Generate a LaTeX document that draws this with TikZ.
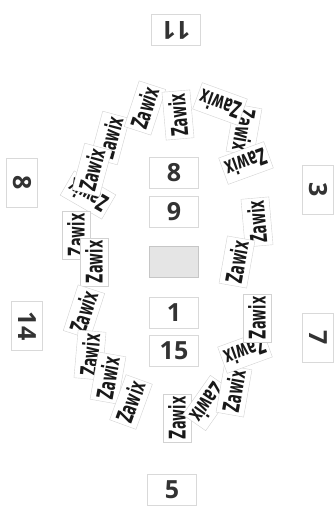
\documentclass[tikz,border=0pt]{standalone}
\usepackage{fontspec}
\newfontfamily\numfont{Open Sans}
\newfontfamily\handfont[FakeStretch=0.56]{DejaVu Sans}
\tikzset{
  numbox/.style={draw=gray!30, fill=white, minimum width=49pt, minimum height=31pt, inner sep=0pt,
    font=\numfont\bfseries\fontsize{25}{25}\selectfont, text=black!80},
  tag/.style={draw=gray!35, fill=white, minimum width=48pt, minimum height=28pt, inner sep=1pt,
    font=\handfont\bfseries\fontsize{23}{23}\selectfont, text=black!90},
}
\begin{document}
\begin{tikzpicture}[x=1pt,y=-1pt]
\path[use as bounding box, fill=white] (0,0) rectangle (334,517);
% outer numbers
\node[numbox, rotate=180] (n11) at (176,30) {11};
\node[numbox, rotate=-90] (n8l) at (22,183) {8};
\node[numbox, rotate=-90] (n14) at (27,326) {14};
\node[numbox, rotate=-90] (n3) at (318,190) {3};
\node[numbox, rotate=-90] (n7) at (318,338) {7};
\node[numbox] (n5) at (172,490) {5};
% central column
\node[numbox] (c8) at (174,173) {8};
\node[numbox] (c9) at (174,212) {9};
\node[numbox, fill=gray!20, draw=gray!45] (cg) at (174,262) {};
\node[numbox] (c1) at (174,313) {1};
\node[numbox] (c15) at (174,351) {15};
% ring of tags
\node[tag, rotate=75] (t1) at (110,138) {Zawix};
\node[tag, rotate=72] (t2) at (145,108) {Zawix};
\node[tag, rotate=95] (t3) at (178,115) {Zawix};
\node[tag, rotate=-100] (t5) at (244,130) {Zawix};
\node[tag, rotate=160] (t4) at (220,104) {Zawix};
\node[tag, rotate=200] (t6) at (246,163) {Zawix};
\node[tag, rotate=150] (t8) at (88,195) {Zawix};
\node[tag, rotate=75] (t7) at (92,170) {Zawix};
\node[tag, rotate=90] (t9) at (76,235) {Zawix};
\node[tag, rotate=90] (t10) at (94,262) {Zawix};
\node[tag, rotate=72] (t11) at (84,312) {Zawix};
\node[tag, rotate=85] (t12) at (90,355) {Zawix};
\node[tag, rotate=80] (t13) at (108,378) {Zawix};
\node[tag, rotate=70] (t14) at (131,402) {Zawix};
\node[tag, rotate=90] (t15) at (177,418) {Zawix};
\node[tag, rotate=235] (t16) at (208,403) {Zawix};
\node[tag, rotate=80] (t17) at (234,391) {Zawix};
\node[tag, rotate=200] (t18) at (245,352) {Zawix};
\node[tag, rotate=90] (t21) at (257,318) {Zawix};
\node[tag, rotate=95] (t19) at (257,222) {Zawix};
\node[tag, rotate=80] (t20) at (237,262) {Zawix};
\end{tikzpicture}
\end{document}
